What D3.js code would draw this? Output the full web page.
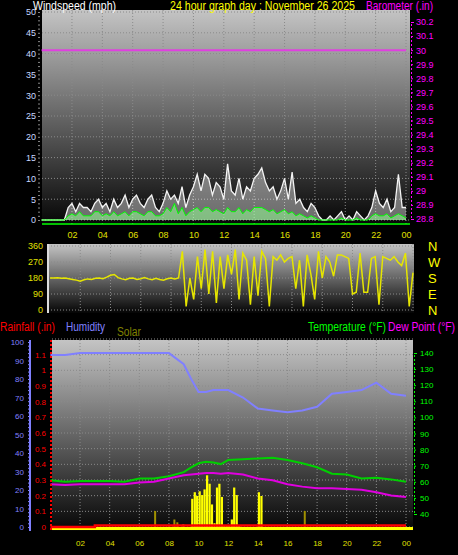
<!DOCTYPE html><html><head><meta charset="utf-8">
<script src="https://cdn.jsdelivr.net/npm/d3@7"></script>
<style>body{margin:0;background:#000}svg{display:block;font-family:"Liberation Sans",Arial,sans-serif}</style>
</head><body><svg id="c" width="458" height="555"></svg>
<script>
const hourTicks=[2,4,6,8,10,12,14,16,18,20,22,24];
const hourLabels=["02","04","06","08","10","12","14","16","18","20","22","00"];
// 15-minute samples, 0:00..24:00
const windGust=[0,0,0,0,0,0,0,3,4,2,4,3,3,2,4,5,3,4,2,5,3,4,6,3,5,6,4,3,5,6,3,2,4,7,5,6,4,8,3,6,8,11,7,11,10,6,9,8,5,13.5,7,6,10,5,8,7,10,11,12.5,9,7,8,5,7,10,5,11.5,4,5,3,2,4,3,1,0,0,1,0,1,2,0,1,0,2,1,0,1,3,7,4,3,5,2,3,11,3,3];
const windAvg=[0,0,0,0,0,0,0,1,1.5,1,2,1,1,1,2,2,1,1.5,1,2,1,1.5,2,1,2,2,1.5,1,2,2,1,1,1.5,3,2,4,1.5,3,1,2,2.5,3,2,3,3,2,2.5,2,1.5,3,2,2,3,1.5,2.5,2,3,3,3,2.5,2,2.5,1.5,2,2.5,1.5,2,1,1.5,1,0.5,1,0.5,0,0,0,0,0,0,0.5,0,0,0,0.5,0,0,0,1,1.5,1,1,1.5,0.5,1,1.5,1,0.5];
const baroHours=[0,24];
const baroValues=[30.0,30.0];
const windDir=[180,180,182,178,180,176,172,168,162,170,175,172,178,180,176,185,195,200,182,175,170,178,180,172,176,182,175,170,178,172,168,176,180,174,180,330,20,180,60,300,120,340,90,330,40,300,120,310,200,340,60,320,280,30,300,80,330,290,20,300,280,310,270,290,300,120,280,20,310,200,60,330,180,300,270,190,310,310,300,290,90,100,320,100,100,290,300,30,300,290,280,300,270,250,320,20,210];
const thHours=[0,1,2,3,4,5,6,7,8,9,9.5,10,10.5,11,11.5,12,13,14,15,16,17,18,19,20,21,22,23,24];
const temperature=[61,60,60.5,60.5,60.5,60,62,62,63.5,66,69,71.5,72.5,72,71,73.5,74,74.5,75,73.5,71.5,69,65,64.5,62,62.5,61.5,60];
const dewPoint=[58.5,58,58.5,58.5,58.5,58.5,59.5,60,62,64,64.5,65,65.5,65.5,65,65.5,64.5,62,61,58.5,57,56,56,55.5,55,53.5,51.5,50.5];
const humidity=[93,93,94,94,94,94,94,94,94,88,80,73,73,74,74,74,70,64,63,62,63,65,72,73,74,78,72,71];
const rainHours=[0,2.9,3,24];
const rainfall=[0,0,0.01,0.01];
const solarHours=[9.5,9.67,9.83,10,10.17,10.33,10.5,10.67,10.83,11,11.17,11.33,11.5,11.67,11.83,12,12.17,12.33,12.5,12.67,12.83,13,13.17,13.33,13.5,13.67,13.83,14,14.17,14.33];
const solar=[150,185,165,190,170,200,275,230,120,20,210,230,160,5,5,5,40,210,170,5,0,0,0,0,0,0,0,185,165,0];
const uvHours=[7,8.3,8.5,8.9,17.1];
const uvValues=[85,40,25,15,85];

const svg=d3.select("#c");
const defs=svg.append("defs");
const g=defs.append("linearGradient").attr("id","bg").attr("x1",0).attr("y1",0).attr("x2",0).attr("y2",1);
g.append("stop").attr("offset","0%").attr("stop-color","#c4c4c4");
g.append("stop").attr("offset","100%").attr("stop-color","#050505");
const col={white:"#fff",yellow:"#ffff00",mag:"#ff00ff",green:"#00ff00",red:"#ff0000",blue:"#8080ff",olive:"#808000"};
function txt(x,y,t,c,w,s){const e=svg.append("text").attr("x",x).attr("y",y).text(t).attr("fill",c).attr("font-size",s||12);if(w)e.attr("textLength",w).attr("lengthAdjust","spacingAndGlyphs");return e;}
function panel(x0,x1,y0,y1){svg.append("rect").attr("x",x0).attr("y",y0).attr("width",x1-x0).attr("height",y1-y0).attr("fill","url(#bg)");}
function grid(x,y,yt,x0,x1,y0,y1){
  const gg=svg.append("g").attr("stroke","#8a8a8a").attr("stroke-dasharray","1,2").attr("stroke-width",1);
  hourTicks.forEach(h=>gg.append("line").attr("x1",x(h)).attr("x2",x(h)).attr("y1",y0).attr("y2",y1));
  yt.forEach(v=>gg.append("line").attr("x1",x0).attr("x2",x1).attr("y1",y(v)).attr("y2",y(v)));
}
// Panel 1
const x1=d3.scaleLinear([0,24],[41.6,406]);
const yW=d3.scaleLinear([0,50],[220,12]);
const yB=d3.scaleLinear([28.8,30.2],[219,22]);
panel(42,410,10,225);
grid(x1,yW,d3.range(0,51,5),42,410,10,225);
const t15=windGust.map((d,i)=>i*0.25);
svg.append("path").datum(windGust).attr("fill","rgba(255,255,255,0.4)").attr("d",d3.area().x((d,i)=>x1(t15[i])).y0(yW(0)).y1(d=>yW(d)));
svg.append("path").datum(windGust).attr("fill","none").attr("stroke","#f4f4f4").attr("stroke-width",1.3).attr("d",d3.line().x((d,i)=>x1(t15[i])).y(d=>yW(d)));
svg.append("path").datum(windAvg).attr("fill","rgba(150,255,150,0.55)").attr("d",d3.area().x((d,i)=>x1(t15[i])).y0(yW(0)).y1(d=>yW(d)));
svg.append("path").datum(windAvg).attr("fill","none").attr("stroke",col.green).attr("stroke-width",1).attr("d",d3.line().x((d,i)=>x1(t15[i])).y(d=>yW(d)));
svg.append("line").attr("x1",42).attr("x2",410).attr("y1",224).attr("y2",224).attr("stroke",col.green).attr("stroke-width",1.5);
svg.append("path").datum(baroValues).attr("stroke","#e040e0").attr("stroke-width",2).attr("d",d3.line().x((d,i)=>x1(baroHours[i])).y(d=>yB(d)));
const aw=svg.append("g").attr("transform","translate(40,0)").call(d3.axisLeft(yW).tickValues(d3.range(0,51,5)).tickSize(0).tickPadding(4));
aw.selectAll("text").attr("fill","#c8d8ff").attr("font-size",9);aw.select(".domain").remove();
svg.append("g").attr("transform","translate(40,0)").call(d3.axisLeft(yW).tickValues(d3.range(0,51,1)).tickSize(2).tickFormat("")).attr("color","#888").select(".domain").remove();
const ab=svg.append("g").attr("transform","translate(411,0)").call(d3.axisRight(yB).tickValues(d3.range(28.8,30.21,0.1)).tickFormat(d=>{const s=d3.format(".1f")(d);return s.endsWith(".0")?s.slice(0,-2):s;}).tickSize(3).tickPadding(2));
ab.selectAll("text").attr("fill",col.mag).attr("font-size",9);ab.selectAll("line,path").attr("stroke",col.mag).attr("stroke-dasharray","2,2");
const ax1=svg.append("g").attr("transform","translate(0,230)").call(d3.axisBottom(x1).tickValues(hourTicks).tickFormat((d,i)=>hourLabels[i]).tickSize(0).tickPadding(2));
ax1.select(".domain").remove();ax1.selectAll("text").attr("fill","#e0e000").attr("font-size",9);
txt(33,10,"Windspeed (mph)",col.white,83);
txt(170,10,"24 hour graph day : November 26 2025",col.yellow,185);
txt(366,10,"Barometer (.in)",col.mag,67);
// Panel 2
const x2=d3.scaleLinear([0,24],[50,413]);
const yD=d3.scaleLinear([0,360],[310,246]);
panel(48,414,244,313);
grid(x2,yD,[0,90,180,270,360],48,414,244,313);
svg.append("path").datum(windDir).attr("fill","none").attr("stroke","#e6e600").attr("stroke-width",1.5).attr("d",d3.line().x((d,i)=>x2(i*0.25)).y(d=>yD(d)));
svg.append("line").attr("x1",48).attr("x2",48).attr("y1",244).attr("y2",313).attr("stroke","#ddd").attr("stroke-width",2);
const ad=svg.append("g").attr("transform","translate(46,0)").call(d3.axisLeft(yD).tickValues([0,90,180,270,360]).tickSize(0).tickPadding(3));
ad.select(".domain").remove();ad.selectAll("text").attr("fill","#e0e000").attr("font-size",9);
["N","W","S","E","N"].forEach((t,i)=>txt(428,yD(360-i*90)+5,t,col.yellow,0,13));
// Panel 3
txt(0,331,"Rainfall (.in)",col.red,55);
txt(66,331,"Humidity",col.blue,39);
txt(117,336,"Solar",col.olive,24);
txt(308,331,"Temperature (°F)",col.green,78);
txt(388,331,"Dew Point (°F)",col.mag,67);
const x3=d3.scaleLinear([0,24],[50.4,406]);
const yH=d3.scaleLinear([0,100],[527,342]);
const yR=d3.scaleLinear([0,1.2],[527,339]);
const yT=d3.scaleLinear([40,140],[514,353]);
const yS=d3.scaleLinear([0,1000],[527,339]);
panel(52,413,340,531);
grid(x3,yR,d3.range(0,1.21,0.1),52,413,340,531);
const bw=(x3(1/6)-x3(0))*0.9;
svg.append("g").selectAll("rect").data(uvValues).join("rect").attr("x",(d,i)=>x3(uvHours[i])).attr("width",2).attr("y",d=>yS(d)).attr("height",d=>yS(0)-yS(d)).attr("fill","#a09000");
svg.append("g").selectAll("rect").data(solar).join("rect").attr("x",(d,i)=>x3(solarHours[i])).attr("width",bw).attr("y",d=>yS(d)).attr("height",d=>yS(0)-yS(d)).attr("fill",col.yellow);
svg.append("rect").attr("x",52).attr("width",361).attr("y",527).attr("height",3).attr("fill",col.yellow);
const ln=(ys,xs)=>d3.line().x((d,i)=>x3(xs[i])).y(d=>ys(d));
svg.append("path").datum(humidity).attr("fill","none").attr("stroke","#8080ff").attr("stroke-width",2).attr("d",ln(yH,thHours));
svg.append("path").datum(temperature).attr("fill","none").attr("stroke","#00d000").attr("stroke-width",2).attr("d",ln(yT,thHours));
svg.append("path").datum(dewPoint).attr("fill","none").attr("stroke","#e000e0").attr("stroke-width",2).attr("d",ln(yT,thHours));
svg.append("path").datum(rainfall).attr("fill","none").attr("stroke",col.red).attr("stroke-width",2.5).attr("d",d3.line().x((d,i)=>x3(rainHours[i])).y(d=>yR(d)).curve(d3.curveStepAfter));
svg.append("line").attr("x1",51).attr("x2",51).attr("y1",340).attr("y2",531).attr("stroke",col.red).attr("stroke-dasharray","2,2").attr("stroke-width",2);
svg.append("line").attr("x1",30).attr("x2",30).attr("y1",340).attr("y2",531).attr("stroke",col.blue).attr("stroke-width",2);
const ah=svg.append("g").attr("transform","translate(25,0)").call(d3.axisLeft(yH).tickValues(d3.range(0,101,10)).tickSize(0).tickPadding(1));
ah.select(".domain").remove();ah.selectAll("text").attr("fill",col.blue).attr("font-size",8);
svg.append("g").attr("transform","translate(30,0)").call(d3.axisLeft(yH).tickValues(d3.range(0,101,2)).tickSize(2).tickFormat("")).attr("color",col.blue).select(".domain").remove();
const ar=svg.append("g").attr("transform","translate(47,0)").call(d3.axisLeft(yR).tickValues(d3.range(0,1.15,0.1)).tickFormat(d=>d===0?"0":d3.format(".1f")(d).replace(/\.0$/,"")).tickSize(0).tickPadding(1));
ar.select(".domain").remove();ar.selectAll("text").attr("fill",col.red).attr("font-size",8);
const at=svg.append("g").attr("transform","translate(414,0)").call(d3.axisRight(yT).tickValues(d3.range(40,141,10)).tickSize(3).tickPadding(3));
at.selectAll("text").attr("fill",col.green).attr("font-size",8);at.selectAll("line,path").attr("stroke",col.green).attr("stroke-dasharray","2,2");
const ax3=svg.append("g").attr("transform","translate(0,538)").call(d3.axisBottom(x3).tickValues(hourTicks).tickFormat((d,i)=>hourLabels[i]).tickSize(0).tickPadding(2));
ax3.select(".domain").remove();ax3.selectAll("text").attr("fill","#e0e000").attr("font-size",8);
</script></body></html>
